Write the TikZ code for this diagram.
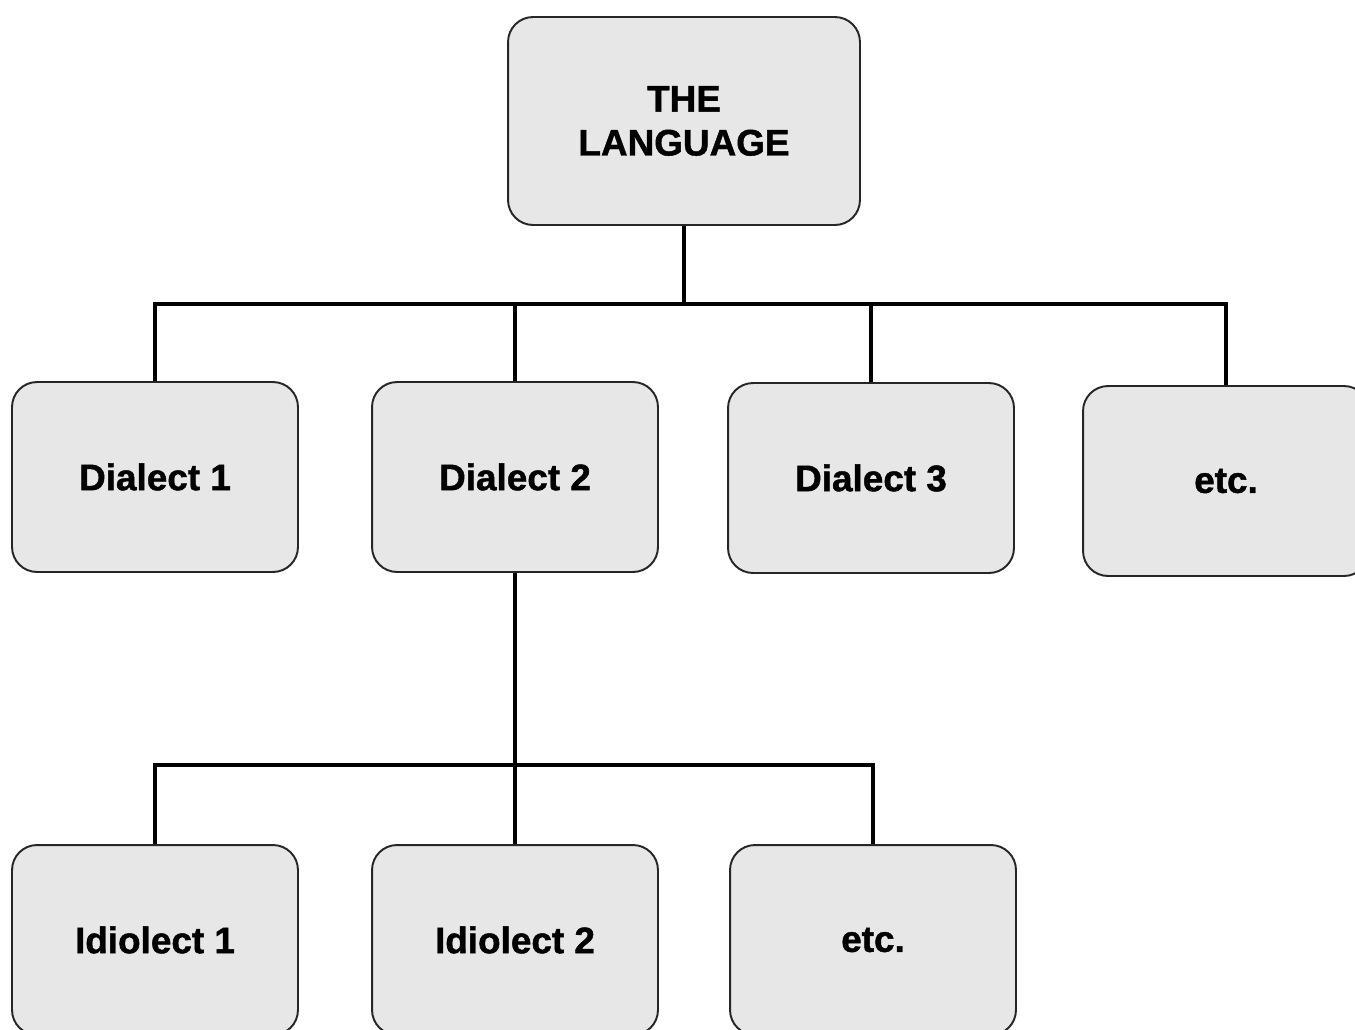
\documentclass[tikz,border=0pt]{standalone}
\usepackage{fontspec}
\setmainfont{Liberation Sans}[BoldFeatures={FakeBold=1.2}]
\usepackage{tikz}
\usetikzlibrary{positioning,calc}
\tikzset{box/.style={draw=black!85,line width=1.1pt,fill=gray!19,rounded corners=0.5cm,minimum width=5.72cm,minimum height=3.8cm,font=\fontsize{21}{25}\selectfont\bfseries,align=center}}
\tikzset{link/.style={line width=1.9pt,black}}

\begin{document}
\begin{tikzpicture}[x=0.02cm,y=-0.02cm]
\clip (0,0) rectangle (1355,1029);
\fill[white] (0,0) rectangle (1355,1029);
\node[box,minimum width=7.04cm,minimum height=4.16cm] (lang) at (684,121) {THE\\LANGUAGE};
\node[box] (d1) at (155,477) {Dialect 1};
\node[box] (d2) at (515,477) {Dialect 2};
\node[box] (d3) at (871,478) {Dialect 3};
\node[box] (detc) at (1226,481) {etc.};
\node[box] (i1) at (155,940) {Idiolect 1};
\node[box] (i2) at (515,940) {Idiolect 2};
\node[box] (ietc) at (873,940) {etc.};
\coordinate (bar1) at (684,304);
\coordinate (bar2) at (515,765);
\draw[link] (lang.south) -- (bar1);
\draw[link] (d1.north) |- (bar1) -| (detc.north);
\foreach \d in {d2,d3}
	\draw[link] (\d.north) -- (\d.north |- bar1);
\draw[link] (d2.south) -- (bar2);
\draw[link] (i1.north) |- (bar2) -| (ietc.north);
\draw[link] (i2.north) -- (bar2);
\end{tikzpicture}
\end{document}
